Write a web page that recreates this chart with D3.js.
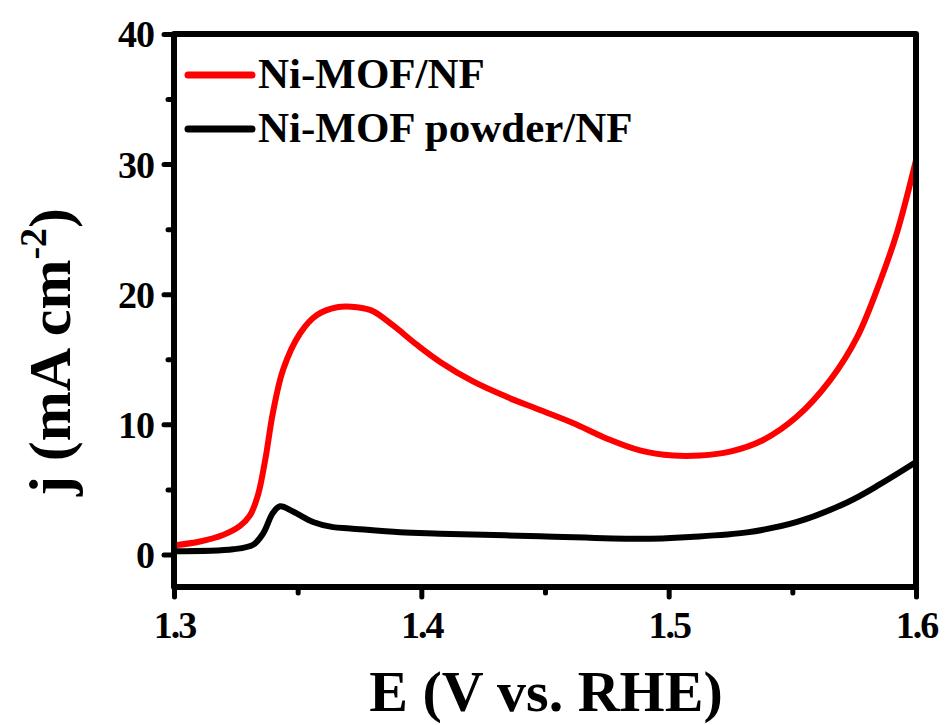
<!DOCTYPE html>
<html>
  <head>
    <meta http-equiv="Content-Type" content="text/html;charset=utf-8"/>
    <title>LSV curves</title>
    <script src="https://d3js.org/d3.v7.min.js"></script>
    <style>
      body { margin: 0; background: #fff; }
    </style>
  </head>
  <body>
    <div id="chart"></div>
    <script type="text/javascript">

      // Ni-MOF/NF (red)
      const redE = [1.300, 1.3105, 1.3198, 1.3267, 1.3307, 1.3340, 1.337, 1.340, 1.3441, 1.351,
                    1.3578, 1.3659, 1.374, 1.3805, 1.3886, 1.3983, 1.4076, 1.4209, 1.4347, 1.448,
                    1.4613, 1.4751, 1.4884, 1.5018, 1.5127, 1.5248, 1.5382, 1.5519, 1.5653, 1.5762,
                    1.5855, 1.5924, 1.600]
      const redJ = [0.7, 1.0, 1.5, 2.2, 3.0, 4.6, 7.4, 10.9, 14.2, 17.0,
                    18.4, 19.0, 19.0, 18.7, 17.6, 16.1, 14.8, 13.3, 12.1, 11.1,
                    10.1, 8.9, 8.0, 7.6, 7.6, 7.9, 8.8, 10.6, 13.4, 16.7,
                    21.0, 24.8, 30.3]

      // Ni-MOF powder/NF (black)
      const blackE = [1.300, 1.3239, 1.332, 1.336, 1.340, 1.3429, 1.3481, 1.3562, 1.3643, 1.3712,
                      1.3914, 1.4076, 1.448, 1.4884, 1.5087, 1.5317, 1.5519, 1.5721, 1.5855, 1.600]
      const blackJ = [0.25, 0.4, 0.75, 1.6, 3.2, 3.7, 3.3, 2.5, 2.1, 2.0,
                      1.7, 1.6, 1.4, 1.2, 1.35, 1.7, 2.5, 4.0, 5.4, 7.1]

      const xTicks = [1.3, 1.4, 1.5, 1.6]
      const xMinor = [1.35, 1.45, 1.55]
      const yTicks = [0, 10, 20, 30, 40]
      const yMinor = [5, 15, 25, 35]
      const seriesNames = ['Ni-MOF/NF', 'Ni-MOF powder/NF']
      const seriesColors = ['#ff0000', '#000000']

      const width = 951, height = 725
      const mLeft = 174, mRight = 916, mTop = 34, mBottom = 587
      const serif = '"Liberation Serif", "Times New Roman", serif'

      const svg = d3.select('#chart').append('svg').attr('width', width).attr('height', height)

      const x = d3.scaleLinear().domain([1.3, 1.6]).range([mLeft, mRight])
      const y = d3.scaleLinear().domain([-2.5, 40]).range([mBottom, mTop])

      const line = d3.line().x(d => x(d[0])).y(d => y(d[1])).curve(d3.curveCatmullRom.alpha(0.5))

      const series = [
        d3.zip(redE, redJ),
        d3.zip(blackE, blackJ)
      ]

      // curves (black drawn first so red sits on top)
      svg.append('path')
        .datum(series[1])
        .attr('d', line)
        .attr('fill', 'none')
        .attr('stroke', seriesColors[1])
        .attr('stroke-width', 6)
        .attr('stroke-linejoin', 'round')

      svg.append('path')
        .datum(series[0])
        .attr('d', line)
        .attr('fill', 'none')
        .attr('stroke', seriesColors[0])
        .attr('stroke-width', 6)
        .attr('stroke-linejoin', 'round')

      // axes
      const xAxis = d3.axisBottom(x).tickValues(xTicks).tickSize(10).tickPadding(14).tickFormat(d3.format('.1f'))
      const yAxis = d3.axisLeft(y).tickValues(yTicks).tickSize(10).tickPadding(10).tickFormat(d3.format('d'))

      const gx = svg.append('g').attr('transform', 'translate(0,' + mBottom + ')').call(xAxis)
      const gy = svg.append('g').attr('transform', 'translate(' + mLeft + ',0)').call(yAxis)

      svg.append('g').attr('transform', 'translate(0,' + mBottom + ')')
        .call(d3.axisBottom(x).tickValues(xMinor).tickSize(6).tickFormat(''))
      svg.append('g').attr('transform', 'translate(' + mLeft + ',0)')
        .call(d3.axisLeft(y).tickValues(yMinor).tickSize(6).tickFormat(''))

      svg.selectAll('.domain').remove()
      svg.selectAll('.tick line').attr('stroke', '#000').attr('stroke-width', 5).attr('stroke-linecap', 'round')
      svg.selectAll('.tick text')
        .attr('font-family', serif).attr('font-weight', 'bold').attr('font-size', 38)
        .attr('fill', '#000')
      gx.selectAll('.tick text').attr('letter-spacing', -2)
      gy.selectAll('.tick text').attr('dy', '0.34em').attr('letter-spacing', -1)

      // frame
      svg.append('rect')
        .attr('x', mLeft).attr('y', mTop)
        .attr('width', mRight - mLeft).attr('height', mBottom - mTop)
        .attr('fill', 'none').attr('stroke', '#000').attr('stroke-width', 6)
        .attr('stroke-linejoin', 'round')

      // axis titles
      svg.append('text')
        .attr('x', 546).attr('y', 711)
        .attr('text-anchor', 'middle')
        .attr('font-family', serif).attr('font-weight', 'bold').attr('font-size', 58)
        .text('E (V vs. RHE)')

      const yt = svg.append('text')
        .attr('transform', 'translate(70,352) rotate(-90)')
        .attr('text-anchor', 'middle')
        .attr('font-family', serif).attr('font-weight', 'bold').attr('font-size', 60)
      yt.append('tspan').text('j (mA cm')
      yt.append('tspan').attr('dy', -24).attr('font-size', 38).text('-2')
      yt.append('tspan').attr('dy', 24).text(')')

      // legend
      const legY = [75, 129]
      seriesNames.forEach((name, i) => {
        svg.append('line')
          .attr('x1', 188).attr('x2', 252)
          .attr('y1', legY[i]).attr('y2', legY[i])
          .attr('stroke', seriesColors[i]).attr('stroke-width', 7).attr('stroke-linecap', 'round')
        svg.append('text')
          .attr('x', 258).attr('y', legY[i] + 13)
          .attr('font-family', serif).attr('font-weight', 'bold').attr('font-size', 43)
          .text(name)
      })

    </script>
  </body>
</html>
